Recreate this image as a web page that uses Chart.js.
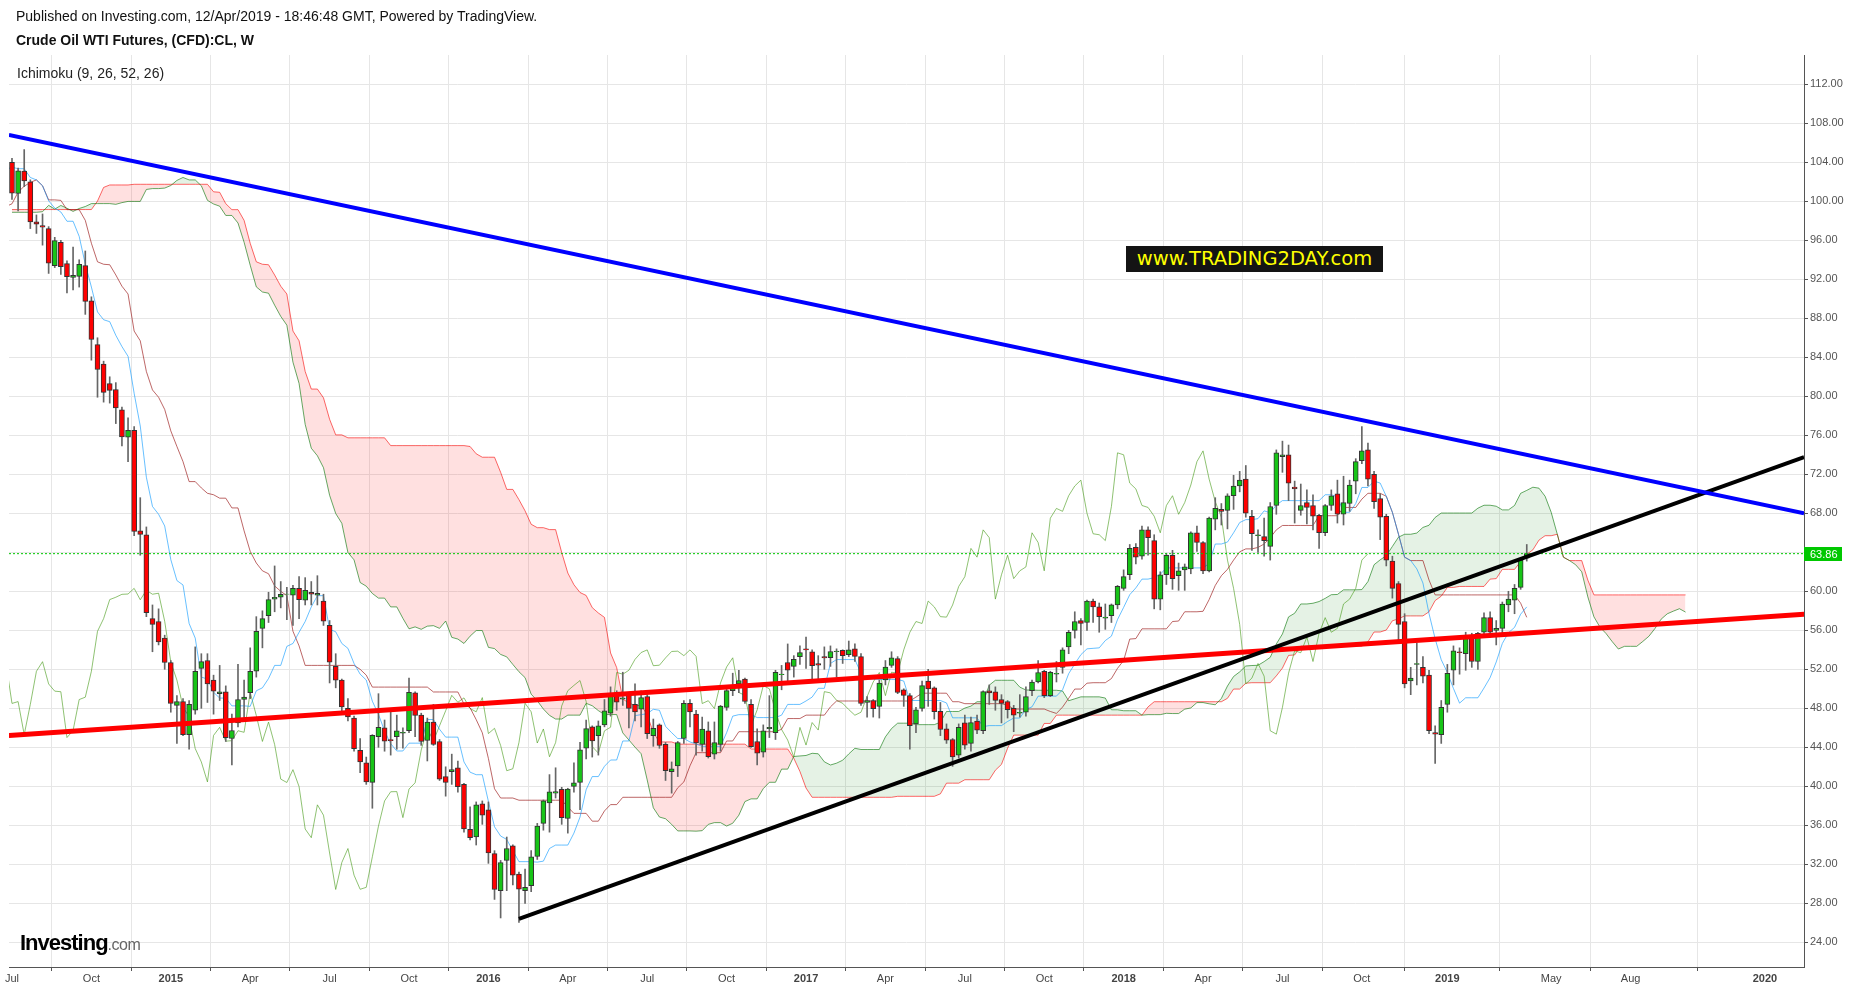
<!DOCTYPE html>
<html>
<head>
<meta charset="utf-8">
<script src="https://cdn.jsdelivr.net/npm/chart.js@4.4.1/dist/chart.umd.min.js"></script>
<style>
  html, body { margin: 0; padding: 0; background: #fff; }
  body { width: 1853px; height: 991px; position: relative; overflow: hidden; font-family: 'Liberation Sans', Arial, sans-serif; }
  #chart { position: absolute; left: 0; top: 0; }
  .txt { position: absolute; white-space: nowrap; color: #111; font-size: 14px; line-height: 15px; }
  .watermark { position: absolute; left: 1126px; top: 246px; width: 257px; height: 26px; background: #141414; color: #ffff00;
    font-family: 'DejaVu Sans', Verdana, sans-serif; font-size: 19.5px; line-height: 26px; text-align: center; white-space: nowrap; }
  .logo { position: absolute; left: 20px; top: 930px; white-space: nowrap; }
  .logo .inv { font-size: 22px; font-weight: bold; color: #000; letter-spacing: -1px; }
  .logo .com { font-size: 16px; color: #666; letter-spacing: -0.5px; }
</style>
</head>
<body>
<canvas id="chart" width="1853" height="991"></canvas>
<div class="txt" style="left:16px;top:9px;">Published on Investing.com, 12/Apr/2019 - 18:46:48 GMT, Powered by TradingView.</div>
<div class="txt" style="left:16px;top:33px;font-weight:bold;">Crude Oil WTI Futures, (CFD):CL, W</div>
<div class="txt" style="left:17px;top:66px;color:#222;">Ichimoku (9, 26, 52, 26)</div>
<div class="watermark">www.TRADING2DAY.com</div>
<div class="logo"><span class="inv">Investing</span><span class="com">.com</span></div>

<script>
// weekly bars, first one is the week of 7 Jul 2014, x = week number
const firstWeek = '2014-07-07';

// 77 weeks before the first visible bar, only used by the Ichimoku lines
const preHigh = [
    96.0, 96.4, 98.2, 98.0, 97.8, 97.2, 93.6, 92.6, 93.5, 94.2,
    97.4, 97.8, 95.0, 91.7, 93.6, 96.1, 96.9, 96.6, 96.9, 95.3,
    96.1, 98.2, 99.0, 97.2, 103.9, 106.7, 108.9, 108.5, 109.2, 107.2,
    108.2, 107.8, 112.24, 110.7, 110.6, 108.9, 105.2, 104.3, 104.0, 102.9,
    101.1, 98.5, 95.1, 95.2, 95.6, 95.0, 98.0, 98.7, 99.6, 100.75,
    100.6, 94.6, 94.8, 97.8, 98.3, 100.2, 101.0, 103.6, 103.1, 105.2,
    102.7, 101.2, 102.0, 102.2, 104.0, 104.9, 104.4, 101.4, 101.1, 102.4,
    104.6, 104.5, 103.4, 107.5, 107.68, 107.5, 106.0
];
const preLow = [
    93.3, 94.6, 95.5, 95.0, 95.1, 92.1, 90.0, 89.3, 91.4, 91.9,
    93.6, 92.6, 90.8, 86.06, 87.8, 90.6, 94.4, 93.2, 92.8, 91.1,
    91.6, 95.1, 93.2, 93.1, 96.3, 102.2, 104.8, 103.7, 103.9, 103.3,
    104.5, 103.1, 105.8, 106.6, 107.3, 104.2, 101.6, 101.5, 100.6, 100.2,
    96.9, 94.2, 93.5, 92.5, 92.7, 91.8, 92.3, 96.3, 96.0, 98.4,
    93.7, 91.24, 91.8, 94.2, 95.4, 96.2, 98.6, 99.8, 100.8, 100.9,
    97.4, 98.1, 98.8, 99.2, 100.7, 102.8, 100.1, 98.6, 98.8, 99.3,
    101.8, 102.0, 101.9, 102.5, 105.6, 105.3, 103.6
];

const opens = [
    104.0, 100.8, 103.1, 102.0, 97.9, 97.5, 97.2, 93.4, 95.8, 93.6,
    92.2, 92.3, 93.4, 89.8, 85.3, 83.3, 81.3, 80.7, 78.6, 75.8,
    76.5, 66.2, 65.8, 57.2, 56.9, 55.2, 52.7, 48.3, 48.7, 45.3,
    47.8, 52.1, 52.9, 50.9, 49.5, 49.7, 44.9, 46.5, 48.9, 49.6,
    51.8, 56.2, 57.5, 59.2, 59.4, 59.7, 59.6, 60.3, 59.1, 59.9,
    59.6, 59.0, 56.5, 52.3, 50.9, 48.0, 47.0, 43.7, 42.4, 40.4,
    45.1, 46.0, 44.8, 45.1, 45.45, 45.7, 49.6, 47.3, 44.7, 46.6,
    44.6, 41.0, 41.5, 41.9, 40.2, 35.6, 34.8, 38.2, 37.6, 33.1,
    29.3, 32.4, 33.9, 31.0, 29.3, 29.8, 32.8, 36.2, 38.3, 39.3,
    39.7, 36.7, 40.0, 40.4, 43.9, 46.1, 45.2, 46.3, 47.5, 49.6,
    48.95, 49.4, 48.4, 47.9, 49.2, 45.2, 46.3, 44.3, 41.5, 42.1,
    44.9, 48.5, 47.4, 44.3, 45.7, 43.3, 44.3, 48.1, 49.8, 50.5,
    51.0, 48.4, 44.6, 43.5, 45.9, 45.5, 51.45, 52.7, 52.3, 53.3,
    54.1, 53.8, 52.6, 53.3, 53.2, 53.8, 53.95, 53.5, 54.1, 53.3,
    48.6, 48.8, 48.2, 50.9, 52.4, 53.1, 49.9, 49.3, 46.4, 48.0,
    50.8, 50.1, 47.7, 45.9, 44.8, 43.2, 46.5, 44.4, 46.7, 45.7,
    49.8, 49.7, 48.9, 48.7, 48.0, 47.5, 47.6, 49.8, 50.7, 51.8,
    49.3, 51.5, 52.2, 54.3, 56.0, 57.0, 56.8, 59.0, 58.4, 57.25,
    57.5, 58.6, 60.3, 61.7, 64.5, 63.6, 66.3, 65.2, 59.2, 61.7,
    63.7, 61.6, 62.2, 62.3, 66.0, 65.0, 62.1, 67.4, 68.4, 68.3,
    69.8, 70.8, 71.5, 67.7, 65.7, 65.6, 64.6, 68.8, 73.8, 74.0,
    70.7, 68.3, 69.1, 68.8, 67.8, 66.0, 68.8, 70.0, 67.9, 69.0,
    71.3, 73.4, 74.5, 72.0, 69.5, 67.7, 63.1, 60.8, 56.9, 50.8,
    52.5, 52.2, 51.4, 45.5, 45.3, 48.4, 51.9, 53.8, 53.6, 55.4,
    52.8, 55.8, 57.3, 56.0, 56.2, 58.6, 59.1, 60.4, 63.4
];
const highs = [
    104.4, 103.4, 105.3, 102.2, 98.6, 98.7, 97.4, 96.3, 96.0, 93.9,
    95.3, 94.0, 94.9, 90.2, 86.0, 83.6, 82.0, 81.4, 78.9, 77.8,
    76.9, 69.6, 66.6, 58.6, 58.2, 55.5, 52.9, 49.3, 49.0, 48.8,
    54.3, 53.6, 53.6, 51.4, 52.4, 50.3, 47.4, 52.5, 50.9, 54.2,
    57.4, 58.0, 59.9, 62.6, 61.0, 60.4, 60.6, 61.5, 61.4, 61.0,
    61.6, 59.7, 57.0, 53.6, 51.0, 49.0, 47.2, 44.9, 43.0, 45.3,
    49.5, 46.8, 47.7, 47.3, 46.0, 51.1, 49.7, 47.5, 47.0, 48.4,
    44.8, 42.0, 43.3, 42.6, 40.3, 37.9, 38.4, 38.5, 38.4, 33.4,
    32.4, 34.8, 34.0, 31.2, 31.5, 33.4, 36.2, 38.6, 41.2, 41.9,
    39.9, 39.8, 42.4, 44.5, 46.8, 46.2, 46.7, 48.9, 50.2, 49.8,
    51.7, 49.6, 50.5, 49.8, 49.4, 46.9, 46.4, 44.5, 42.5, 44.6,
    48.8, 48.9, 47.8, 47.1, 46.6, 46.6, 48.3, 50.0, 51.6, 51.9,
    51.1, 48.9, 45.9, 46.3, 49.3, 51.9, 52.4, 54.6, 53.4, 54.4,
    55.3, 54.0, 53.4, 54.3, 54.4, 54.1, 54.0, 54.9, 54.6, 53.6,
    49.2, 48.9, 50.9, 52.9, 53.8, 53.3, 50.0, 49.5, 48.1, 50.8,
    52.0, 50.2, 48.6, 46.4, 44.9, 46.4, 47.3, 47.1, 47.3, 49.8,
    50.4, 50.2, 49.4, 48.8, 48.3, 49.4, 50.2, 50.9, 52.9, 51.9,
    51.8, 52.8, 54.2, 56.0, 57.9, 57.2, 59.1, 59.2, 58.8, 58.7,
    58.7, 60.6, 62.2, 64.8, 64.9, 66.7, 66.6, 65.8, 62.0, 63.9,
    64.2, 62.9, 62.8, 66.1, 66.7, 65.1, 67.6, 69.6, 69.0, 70.0,
    71.9, 72.3, 72.9, 68.3, 66.3, 67.5, 69.1, 74.5, 75.4, 75.0,
    71.3, 71.0, 70.4, 69.9, 67.9, 68.9, 70.4, 71.4, 71.8, 71.4,
    73.6, 76.9, 75.2, 72.3, 70.0, 67.9, 63.6, 61.0, 57.7, 52.2,
    54.7, 53.3, 51.9, 46.2, 48.8, 52.5, 54.4, 54.2, 55.8, 55.7,
    55.8, 57.8, 57.9, 57.0, 58.9, 60.0, 60.7, 63.3, 64.8
];
const lows = [
    100.2, 99.0, 101.5, 97.2, 96.7, 95.5, 92.6, 93.2, 92.5, 90.6,
    90.9, 91.2, 88.4, 83.7, 79.9, 79.4, 79.3, 77.2, 74.9, 73.3,
    65.7, 63.7, 57.4, 53.8, 54.5, 52.0, 47.6, 44.4, 45.2, 43.8,
    47.4, 48.0, 48.6, 47.4, 48.8, 44.6, 42.2, 46.1, 46.7, 49.0,
    51.2, 54.2, 56.8, 57.9, 58.3, 57.1, 56.5, 57.2, 58.6, 58.6,
    58.6, 56.5, 50.6, 50.1, 47.7, 46.7, 43.6, 41.4, 40.2, 37.75,
    44.0, 43.6, 43.2, 43.8, 43.9, 45.5, 45.1, 44.2, 42.6, 44.2,
    40.6, 38.99, 40.2, 39.4, 35.3, 34.5, 33.98, 36.1, 32.1, 28.4,
    26.5, 29.3, 29.9, 26.05, 28.0, 29.2, 32.5, 35.5, 35.3, 38.8,
    36.1, 35.2, 39.4, 37.6, 42.8, 43.0, 43.2, 46.1, 47.2, 47.8,
    48.3, 46.0, 46.7, 46.1, 44.9, 44.1, 43.9, 40.6, 39.3, 41.0,
    44.4, 46.1, 43.2, 43.6, 42.9, 42.8, 43.6, 47.8, 49.3, 49.6,
    48.5, 44.0, 42.2, 43.0, 45.0, 44.8, 49.9, 50.7, 51.2, 52.5,
    52.1, 50.7, 50.9, 52.0, 52.3, 51.2, 52.6, 53.3, 52.8, 48.3,
    47.1, 47.1, 47.0, 50.4, 52.2, 49.5, 48.2, 43.8, 45.5, 47.7,
    48.2, 46.9, 45.2, 44.4, 42.05, 42.9, 43.8, 43.6, 45.4, 45.4,
    48.4, 47.8, 46.5, 47.0, 45.6, 47.1, 47.2, 49.3, 50.6, 49.1,
    49.2, 50.7, 51.6, 53.6, 55.2, 54.5, 56.0, 56.8, 55.8, 56.1,
    56.8, 58.2, 60.1, 61.2, 62.8, 63.3, 63.7, 58.2, 58.1, 60.7,
    60.2, 60.1, 60.1, 61.8, 64.1, 61.8, 62.0, 66.3, 66.8, 66.4,
    68.4, 70.2, 67.6, 64.2, 64.0, 63.6, 63.2, 67.9, 72.2, 69.3,
    67.0, 67.8, 66.9, 66.3, 64.4, 65.7, 68.3, 67.0, 66.8, 68.2,
    70.0, 73.1, 70.8, 68.5, 65.3, 62.6, 59.3, 54.8, 50.1, 49.4,
    50.4, 50.6, 45.4, 42.36, 44.4, 47.6, 50.4, 51.5, 51.9, 52.2,
    52.0, 55.4, 55.3, 54.5, 55.6, 57.9, 57.7, 60.2, 63.1
];
const closes = [
    100.83, 103.13, 102.09, 97.88, 97.65, 97.35, 93.65, 95.96, 93.29, 92.27,
    92.41, 93.54, 89.74, 85.82, 82.75, 80.4, 80.6, 78.8, 75.82, 76.51,
    66.15, 65.84, 57.81, 56.6, 54.8, 52.7, 48.5, 48.69, 45.3, 48.4,
    51.8, 52.78, 50.5, 49.76, 49.7, 45.0, 45.72, 48.9, 49.14, 51.8,
    55.9, 57.2, 59.15, 59.39, 59.69, 59.72, 60.3, 59.13, 60.1, 59.7,
    59.8, 56.93, 52.74, 50.89, 48.14, 47.12, 43.87, 42.5, 40.45, 45.22,
    46.05, 44.63, 44.68, 45.7, 45.54, 49.63, 47.26, 44.6, 46.59, 44.29,
    40.74, 40.39, 41.71, 39.97, 35.62, 34.73, 38.1, 37.04, 33.16, 29.42,
    32.19, 33.62, 30.89, 29.44, 29.64, 32.78, 35.92, 38.5, 39.44, 39.46,
    36.79, 39.72, 40.36, 43.73, 45.92, 44.66, 46.21, 47.75, 49.33, 48.62,
    49.07, 47.98, 47.64, 49.1, 45.41, 45.95, 44.19, 41.6, 41.8, 44.49,
    48.52, 47.64, 44.44, 45.88, 43.03, 44.48, 48.24, 49.81, 50.35, 50.85,
    48.7, 44.07, 43.41, 45.69, 46.06, 51.68, 51.5, 51.9, 53.02, 53.72,
    53.99, 52.37, 52.42, 53.17, 53.83, 53.86, 53.4, 53.99, 53.33, 48.49,
    48.78, 47.97, 50.6, 52.24, 53.18, 49.62, 49.33, 46.22, 47.84, 50.33,
    50.0, 47.66, 45.83, 44.74, 43.01, 46.04, 44.23, 46.54, 45.77, 49.71,
    49.58, 48.82, 48.51, 47.87, 47.29, 47.6, 49.2, 50.7, 51.67, 49.3,
    51.7, 51.6, 54.0, 55.8, 56.9, 56.7, 59.0, 58.4, 57.4, 57.35,
    58.6, 60.5, 61.5, 64.4, 63.5, 66.3, 65.5, 59.2, 61.7, 63.7,
    61.3, 62.1, 62.5, 66.0, 65.0, 62.1, 67.5, 68.5, 68.2, 69.8,
    70.8, 71.4, 68.0, 65.9, 65.8, 65.2, 68.7, 74.2, 74.0, 71.1,
    70.5, 68.8, 68.6, 67.7, 66.0, 68.8, 69.8, 67.9, 69.1, 70.9,
    73.3, 74.4, 71.5, 69.2, 67.6, 63.2, 60.3, 56.6, 50.5, 51.1,
    52.6, 51.3, 45.7, 45.35, 48.1, 51.6, 53.9, 53.7, 55.3, 52.8,
    55.7, 57.3, 55.8, 56.2, 58.7, 59.2, 60.3, 63.2, 63.86
];

const tickWeeks = [0, 13, 26, 39, 52, 65, 78, 91, 104, 117, 130, 143, 156, 169, 182, 195, 208, 221, 235, 252, 265, 287];
const tickNames = ['Jul', 'Oct', '2015', 'Apr', 'Jul', 'Oct', '2016', 'Apr', 'Jul', 'Oct', '2017', 'Apr',
    'Jul', 'Oct', '2018', 'Apr', 'Jul', 'Oct', '2019', 'May', 'Aug', '2020'];
const priceTicks = [24, 28, 32, 36, 40, 44, 48, 52, 56, 60, 64, 68, 72, 76, 80, 84, 88, 92, 96, 100, 104, 108, 112];

// hand drawn trend lines: [week, price]
const blueTrend = [[-0.5, 106.8], [293.4, 68.0]];
const redTrend = [[-0.5, 45.2], [293.4, 57.65]];
const blackTrend = [[83.0, 26.4], [293.4, 73.75]];
const lastPrice = 63.86;

const xMin = -0.49;
const xMax = 293.39;
const fontFamily = "'Liberation Sans', Arial, sans-serif";

// ichimoku 9 / 26 / 52, shifted 26
const allHigh = preHigh.concat(highs);
const allLow = preLow.concat(lows);
const pre = preHigh.length;

function midRange(end, len) {
    if (end - len + 1 < 0 || end >= allHigh.length) return null;
    let hi = -Infinity, lo = Infinity;
    for (let k = end - len + 1; k <= end; k++) {
        hi = Math.max(hi, allHigh[k]);
        lo = Math.min(lo, allLow[k]);
    }
    return (hi + lo) / 2;
}

const tenkan = [], kijun = [], spanA = [], spanB = [], chikou = [];
for (let i = -1; i < closes.length; i++) {
    tenkan.push({ x: i, y: midRange(i + pre, 9) });
    kijun.push({ x: i, y: midRange(i + pre, 26) });
}
for (let j = 0; j < closes.length + 26; j++) {
    const g = j + pre - 26;
    const t = midRange(g, 9), k = midRange(g, 26);
    spanA.push({ x: j, y: (t + k) / 2 });
    spanB.push({ x: j, y: midRange(g, 52) });
}
for (let j = -1; j + 26 < closes.length; j++) {
    chikou.push({ x: j, y: closes[j + 26] });
}

const wicks = closes.map((c, i) => ({ x: i, y: [lows[i], highs[i]] }));
const bodies = closes.map((c, i) => ({ x: i, y: [Math.min(opens[i], c), Math.max(opens[i], c)] }));
const isUp = i => closes[i] >= opens[i];

function trendData(pts) {
    return pts.map(p => ({ x: p[0], y: p[1] }));
}

function lineSet(label, data, color, order, extra) {
    return Object.assign({
        type: 'line', label: label, data: data, borderColor: color, borderWidth: 1,
        pointRadius: 0, fill: false, tension: 0, order: order
    }, extra || {});
}

const lastPriceLabel = {
    id: 'lastPriceLabel',
    afterDraw(chart) {
        const ctx = chart.ctx;
        const y = chart.scales.y.getPixelForValue(lastPrice);
        const x = chart.chartArea.right;
        ctx.save();
        ctx.fillStyle = '#00c800';
        ctx.fillRect(x, Math.round(y) - 7, 38, 14);
        ctx.fillStyle = '#fff';
        ctx.font = '11px ' + fontFamily;
        ctx.textBaseline = 'middle';
        ctx.fillText(lastPrice.toFixed(2), x + 6, Math.round(y) + 0.5);
        ctx.restore();
    }
};

new Chart(document.getElementById('chart'), {
    type: 'bar',
    data: {
        datasets: [
            lineSet('Lead 2', spanB, 'rgba(255,0,0,0.6)', 20),
            lineSet('Lead 1', spanA, 'rgba(0,115,0,0.6)', 19, {
                fill: { target: 0, above: 'rgba(0,128,0,0.1)', below: 'rgba(255,0,0,0.12)' }
            }),
            lineSet('Lagging', chikou, 'rgba(69,153,21,0.6)', 18),
            lineSet('Base', kijun, 'rgba(153,21,21,0.65)', 17),
            lineSet('Conversion', tenkan, 'rgba(4,150,255,0.6)', 16),
            {
                label: 'wicks', data: wicks, backgroundColor: '#666', borderWidth: 0,
                barThickness: 1, grouped: false, order: 15
            },
            {
                label: 'bodies', data: bodies,
                backgroundColor: ctx => isUp(ctx.dataIndex) ? '#17c417' : '#ff0000',
                borderColor: '#333', borderWidth: 1, borderSkipped: false,
                barThickness: 5, grouped: false, order: 14
            },
            lineSet('last', [{ x: xMin, y: lastPrice }, { x: xMax, y: lastPrice }], '#00c800', 13, { borderDash: [2, 2] }),
            lineSet('red trend', trendData(redTrend), '#ff0000', 3, { borderWidth: 5 }),
            lineSet('black trend', trendData(blackTrend), '#000000', 2, { borderWidth: 4 }),
            lineSet('blue trend', trendData(blueTrend), '#0000ff', 1, { borderWidth: 4 })
        ]
    },
    options: {
        responsive: false,
        animation: false,
        layout: { padding: { left: 9, top: 55, right: 0, bottom: 0 } },
        plugins: { legend: { display: false }, tooltip: { enabled: false } },
        scales: {
            x: {
                type: 'linear', min: xMin, max: xMax, offset: false,
                afterBuildTicks: s => { s.ticks = tickWeeks.map(v => ({ value: v })); },
                afterFit: s => { s.height = 24; },
                ticks: {
                    autoSkip: false, maxRotation: 0, padding: 1, color: '#444',
                    callback: (v, i) => tickNames[i],
                    font: ctx => ({ family: fontFamily, size: 11, weight: /^\d/.test(tickNames[ctx.index] || '') ? 'bold' : 'normal' })
                },
                grid: { color: '#e6e6e6', tickColor: '#555', tickLength: 4 },
                border: { color: '#555' }
            },
            y: {
                position: 'right', min: 21.47, max: 115.0,
                afterBuildTicks: s => { s.ticks = priceTicks.map(v => ({ value: v })); },
                afterFit: s => { s.width = 49; },
                ticks: { callback: v => v.toFixed(2), color: '#555', padding: 2, font: { family: fontFamily, size: 11 } },
                grid: { color: '#e6e6e6', tickColor: '#555', tickLength: 4 },
                border: { color: '#555' }
            }
        }
    },
    plugins: [lastPriceLabel]
});
</script>
</body>
</html>
